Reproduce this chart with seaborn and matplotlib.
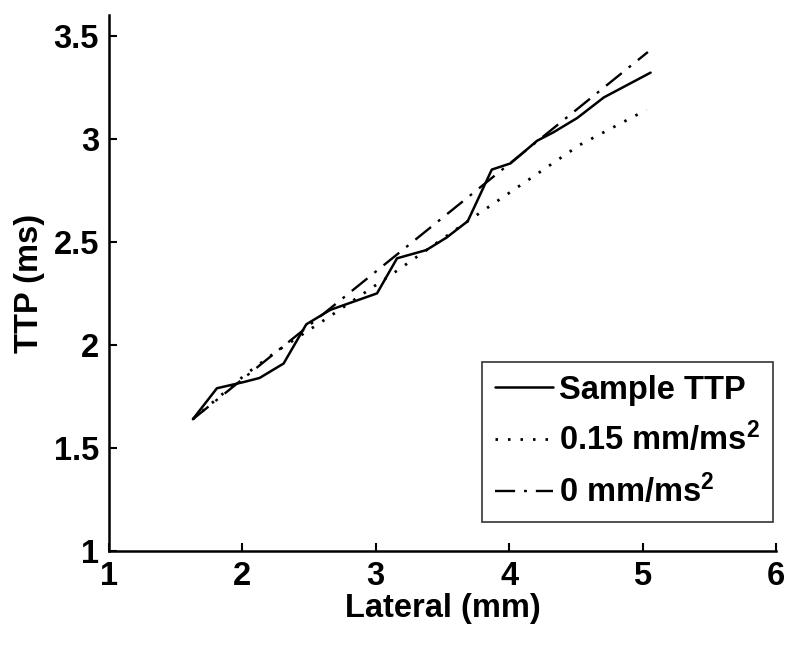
import numpy as np
import pandas as pd
import matplotlib
matplotlib.use('agg')
import matplotlib.pyplot as plt
from matplotlib import font_manager
import seaborn as sns

# values
sample_x = [1.63, 1.81, 2.01, 2.13, 2.31, 2.48, 2.66, 3.01, 3.16, 3.38, 3.53, 3.69,
            3.87, 4.01, 4.21, 4.33, 4.51, 4.71, 5.06]
sample_y = [1.64, 1.79, 1.82, 1.84, 1.91, 2.10, 2.17, 2.25, 2.42, 2.46, 2.52, 2.60,
            2.85, 2.88, 2.99, 3.03, 3.10, 3.20, 3.32]

accel_x = [1.63, 2.03, 2.26, 2.66, 3.16, 3.69, 4.03, 4.53, 5.03]
accel_y = [1.64, 1.86, 1.97, 2.14, 2.36, 2.60, 2.75, 2.97, 3.14]

const_x = [1.63, 5.04]
const_y = [1.64, 3.42]

labels = ["Sample TTP", "0.15 mm/ms$^\\mathbf{2}$", "0 mm/ms$^\\mathbf{2}$"]

x_ticks = [1, 2, 3, 4, 5, 6]
y_ticks = [1, 1.5, 2, 2.5, 3, 3.5]

# the original text is a tall, narrow bold sans
names = {f.name for f in font_manager.fontManager.ttflist}
if "Liberation Sans Narrow" in names:
    font = "Liberation Sans Narrow"
    fsize = 28
else:
    font = "Liberation Sans"
    fsize = 23.5

sns.set_style("ticks")
plt.rcParams['font.family'] = [font, 'DejaVu Sans']
plt.rcParams['font.weight'] = 'bold'
plt.rcParams['text.color'] = 'black'
plt.rcParams['axes.labelcolor'] = 'black'
plt.rcParams['xtick.color'] = 'black'
plt.rcParams['ytick.color'] = 'black'
plt.rcParams['mathtext.fontset'] = 'custom'
plt.rcParams['mathtext.bf'] = font + ':bold'
plt.rcParams['mathtext.rm'] = font + ':bold'
plt.rcParams['mathtext.default'] = 'bf'

fig = plt.figure(figsize=(8, 6.47), dpi=100)
ax = fig.add_axes([0.136, 0.148, 0.834, 0.829])

sns.lineplot(x=sample_x, y=sample_y, ax=ax, color="black", linewidth=1.8,
             sort=False, estimator=None, label=labels[0])
sns.lineplot(x=accel_x, y=accel_y, ax=ax, color="black", linewidth=2.0,
             linestyle=(0, (0.9, 3.6)), sort=False, estimator=None, label=labels[1])
sns.lineplot(x=const_x, y=const_y, ax=ax, color="black", linewidth=1.7,
             linestyle=(0, (8.5, 3.8, 1.2, 3.8)), sort=False, estimator=None, label=labels[2])

ax.set_xlim(1, 6)
ax.set_ylim(1, 3.6)
ax.set_xticks(x_ticks)
ax.set_xticklabels([f"{t:g}" for t in x_ticks])
ax.set_yticks(y_ticks)
ax.set_yticklabels([f"{t:g}" for t in y_ticks])
ax.tick_params(direction="in", length=6, width=1.5, labelsize=fsize, pad=7)
for side in ["top", "right"]:
    ax.spines[side].set_visible(False)
for side in ["left", "bottom"]:
    ax.spines[side].set_linewidth(1.8)
    ax.spines[side].set_color("black")

ax.set_xlabel("Lateral (mm)", fontsize=fsize, fontweight="bold", labelpad=1)
ax.set_ylabel("TTP (ms)", fontsize=fsize, fontweight="bold", labelpad=6)

leg = ax.legend(loc="lower right", bbox_to_anchor=(0.9955, 0.054), borderaxespad=0,
                fontsize=fsize, frameon=True, fancybox=False, handlelength=1.75,
                handletextpad=0.2, labelspacing=0.5, borderpad=0.4)
leg.get_frame().set_edgecolor("black")
leg.get_frame().set_linewidth(1.2)

plt.savefig("out.png", dpi=100)
